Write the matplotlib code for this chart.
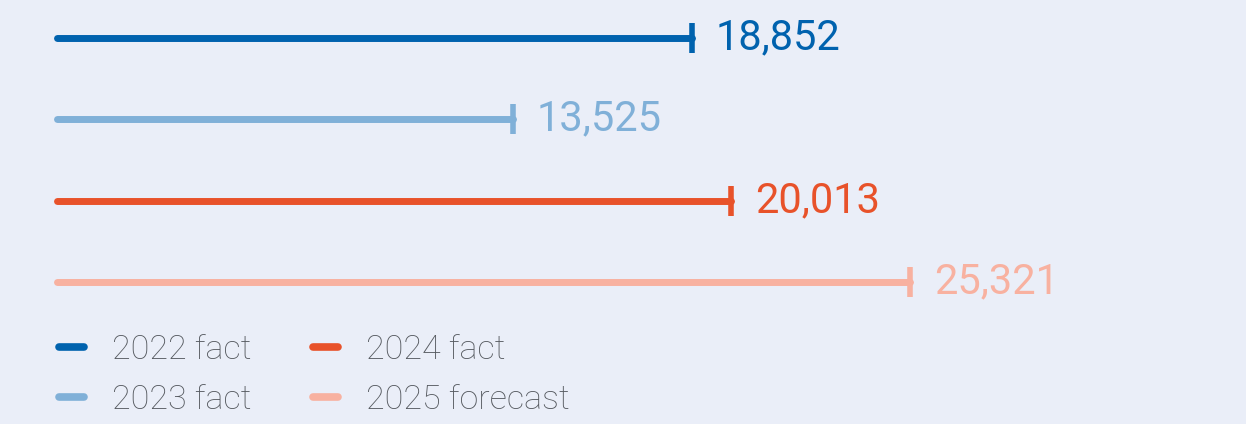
import matplotlib.pyplot as plt

# data
labels = ["2022 fact", "2023 fact", "2024 fact", "2025 forecast"]
values = [18852, 13525, 20013, 25321]
colors = ["#0062AE", "#80B0D8", "#E8522A", "#F8B1A0"]

plt.rcParams['font.family'] = ['Roboto', 'DejaVu Sans']
bg = "#EAEEF8"

fig = plt.figure(figsize=(12.46, 4.24), dpi=100, facecolor=bg)
ax = fig.add_axes([0, 0, 1, 1], facecolor=bg)

for i, (lab, v, c) in enumerate(zip(labels, values, colors)):
    ax.plot([0, v], [i, i], color=c, lw=5, solid_capstyle='round', label=lab)
    ax.plot([v], [i], marker='|', ms=21, mew=4, color=c)
    ax.annotate(f"{v:,}", (v, i), xytext=(17, 0), textcoords='offset points',
                va='center', ha='left', fontsize=30, fontweight='normal', color=c)

ax.set_xlim(-1691, 35282)
ax.set_ylim(4.748, -0.467)
ax.axis('off')

leg = ax.legend(loc='lower left', bbox_to_anchor=(0.047, 0.018), ncol=2,
                frameon=False, fontsize=24.5, handlelength=0.75, handletextpad=0.82,
                columnspacing=1.8, labelspacing=0.55, borderpad=0, borderaxespad=0,
                labelcolor="#55595F")
for t in leg.get_texts():
    t.set_fontweight('light')
for h in leg.get_lines():
    h.set_linewidth(5.5)

fig.savefig("out.png", dpi=100, facecolor=bg)
